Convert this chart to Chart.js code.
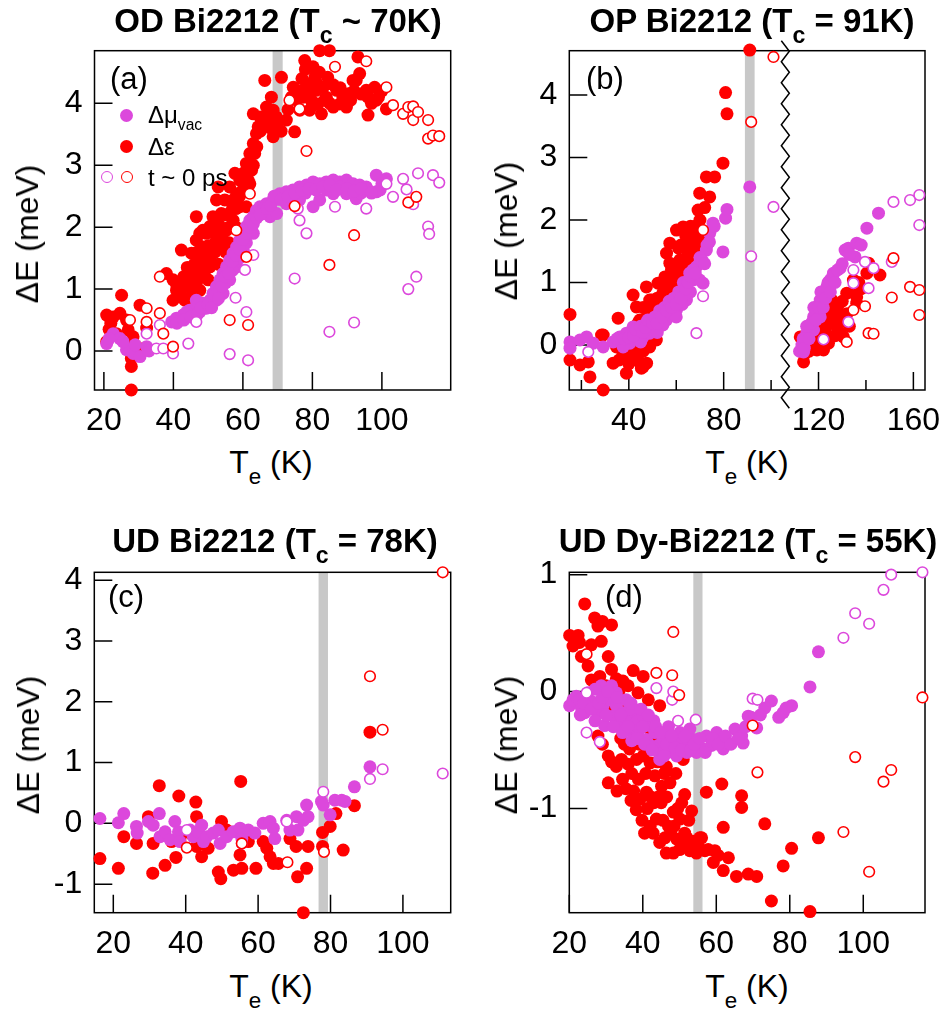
<!DOCTYPE html>
<html><head><meta charset="utf-8">
<script src="https://cdn.jsdelivr.net/npm/chart.js@4.4.0/dist/chart.umd.min.js"></script>
<style>
html,body{margin:0;padding:0;background:#fff;}
#wrap{position:relative;width:946px;height:1011px;overflow:hidden;background:#fff;font-family:"Liberation Sans",Arial,Helvetica,sans-serif;color:#000;}
canvas{position:absolute;}
.t{position:absolute;white-space:nowrap;line-height:1;}
.sb{font-size:0.7em;vertical-align:-11px;}
.sv{font-size:0.65em;vertical-align:-7px;}
.mk{position:absolute;border-radius:50%;box-sizing:border-box;}
</style></head><body><div id="wrap">
<canvas id="ca" width="470" height="400" style="left:0;top:40px"></canvas>
<canvas id="cb" width="476" height="400" style="left:470px;top:40px"></canvas>
<canvas id="cc" width="470" height="420" style="left:0;top:540px"></canvas>
<canvas id="cd" width="476" height="420" style="left:470px;top:540px"></canvas>
</div>
<script>
// ---------------- DATA ----------------
// Panel (a) OD Bi2212
const a_de = [[20.8,0.58],[22.7,0.55],[24.6,0.61],[25.1,0.9],[20.8,0.15],[23.6,0.28],[26.5,0.5],[27,0.34],[27.5,0.07],[27.9,-0.12],[27.9,-0.25],[27.9,-0.63],[28.4,0.23],[29.4,0.07],[30.4,0.74],[29.9,0.04],[32.3,0.37],[22,0.45],[21.5,0.35],
[38,1.25],[39.9,1.15],[40.9,0.98],[41.9,0.93],[43.8,1.04],[45.7,0.93],[47.6,0.98],[42.3,1.63],[46.6,2.17],[47.6,1.9],[48.6,1.68],[49.5,1.47],[50.5,1.36],[51.4,2.17],[52.4,2.44],[52.9,2.65],[53.4,1.9],[54.3,1.79],[55.3,1.95],[56.2,2.22],[57.2,2.44],[58.2,2.54],[59.1,2.76],[60.1,2.87],[61,3.03],[62,3.19],[63,3.35],[63.9,3.51],[63,3.83],[64.9,3.78],[66.8,3.67],[66.3,4.37],[68.7,3.89],[68.7,3.46],[71.1,4.42],[72.5,3.73],[74.9,3.54],[75.4,4.05],[77.3,4.1],[77.8,4.69],[79.2,3.89],[80.2,4.59],[81.1,4.21],[82.1,4.85],[82.6,3.83],[84.9,4.85],[84.4,4.42],[86,3.94],[87,4.21],[88.8,4.1],[91.7,4.37],[93.1,4.75],[93.6,4.48],[89.8,3.94],[95.5,4.21],[96,3.81],[97.9,4.26],[98.4,4.05],[101.3,3.91],
[39.9,0.82],[43.3,0.82],[44.7,1.25],[45.2,1.58],[47.6,1.36],[49.1,1.2],[50,1.15],[46.6,1.79],[49.5,1.9],[50.5,2.01],[51.9,1.9],[53.8,2.22],[54.8,2.44],[57.2,2.11],[59.1,2.33],[60.6,2.6],[61.5,2.76],[62.5,2.92],[63.4,3.19],[56.2,2.65],[57.7,2.87],[61,2.33],[64.4,3.62],[66.8,3.94],[68.2,4.1],[69.6,3.78],[74.5,4.26],[76.4,3.89],[78.3,4.32],[79.7,4.05],[80.7,4.42],[81.6,3.99],[83.1,4.26],[83.5,4.05],[87.9,3.99],[90.7,4.16],[92.6,4.37],
[44,1.1],[46,1.4],[48,1.5],[50,1.7],[52,1.6],[53,1.4],[55,1.6],[58,2.0],[56,1.75],[42,1.0],[44.5,0.85],[47,1.15],
[41,1.05],[43,1.2],[44,1.35],[45,1.1],[46,1.2],[47,1.6],[48,1.25],[48.5,1.95],[49,1.6],[50,1.4],[51,1.55],[51,1.95],[52,1.75],[53,2.05],[54,1.7],[55,2.2],[56,2.0],[57,2.3],[58,2.3],[59,2.5],[60,2.6],[61,2.9],[62,2.7],[62,3.05],[63,3.0],[64,3.3],[65,3.55],[66,3.7],[67,3.8],[68,3.6],[70,3.7],[71,3.55],[73,3.9],[74,4.1],[76,4.2],[77,4.4],[78,4.55],[79,4.2],[80,4.0],[81,4.35],[82,4.5],[84,4.1],[85,4.0],[86,4.3],[88,4.25],[89,4.05],[91,4.05],[92,4.2],[94,4.15],[96,4.1],[97,4.0],[99,4.1],[100,4.2]];
const a_dmu = [[20.8,0.12],[22.7,0.28],[24.6,0.2],[26.5,0.02],[28.4,-0.04],[30.4,-0.09],[32.3,0.07],[21.5,0.2],[25.5,0.15],[29,0.1],[33,0.0],
[39.5,0.47],[40.9,0.53],[42.8,0.58],[44.7,0.66],[46.6,0.72],[48.6,0.77],[50.5,0.82],[51.4,0.93],[52.4,1.04],[53.4,1.15],[54.3,1.25],[55.3,1.36],[56.2,1.47],[57.2,1.58],[58.2,1.68],[59.1,1.79],[60.1,1.9],[61,2.01],[62,2.11],[63,2.17],[63.9,2.27],[64.9,2.33],[66.8,2.38],[68.7,2.44],[70.6,2.54],[72.5,2.57],[74.4,2.6],[76.3,2.65],[78.3,2.68],[80.2,2.73],[82.1,2.7],[84,2.73],[86,2.76],[87.9,2.73],[89.8,2.76],[91.7,2.7],[93.6,2.68],[95.5,2.65],[98.4,2.57],[98.4,2.84],[101.3,2.78],
[47.6,0.63],[49.5,0.69],[52.4,0.82],[54.3,0.93],[56.2,1.15],[58.2,1.36],[60.1,1.63],[63,1.9],[65.8,2.22],[67.8,2.17],[69.7,2.22],[72.5,2.38],[76.3,2.44],[80.2,2.33],[82.1,2.44],[86,2.54],[89.8,2.54],[92.6,2.46],[46.6,0.82],[43.8,0.63],
[53,0.95],[55,1.1],[57,1.3],[59,1.5],[61,1.75],[62,1.95],[66,2.3],[70,2.45],[74,2.5],[78,2.55],[84,2.6],[88,2.65],[94,2.55],[96,2.6],[100,2.7],[99.5,2.6],
[41,0.45],[43,0.5],[45,0.55],[47,0.6],[48,0.7],[50,0.75],[51,0.7],[52,0.9],[53,0.85],[54,1.05],[55,1.2],[56,1.25],[57,1.45],[58,1.55],[59,1.65],[60,1.8],[61,1.9],[62,2.0],[63,2.05],[64,2.15],[65,2.2],[67,2.3],[68,2.35],[69,2.5],[71,2.45],[73,2.5],[75,2.55],[77,2.6],[79,2.62],[81,2.6],[83,2.65],[85,2.68],[87,2.6],[90,2.62],[92,2.58],[94,2.62],[97,2.55]];
const a_dmu0 = [[32.3,0.28],[36.1,0.42],[35.1,0.04],[37.1,0.04],[39.9,-0.04],[44.3,0.12],[46.6,0.47],[56.2,-0.05],[57.9,0.86],[61,0.63],[61.5,-0.15],[60.6,1.31],[63,1.55],[74.9,1.17],[75.8,2.3],[76.3,2.11],[78.3,1.9],[84.9,0.31],[86.5,2.33],[92,0.46],[95.5,2.3],[103.2,2.49],[106.1,2.78],[107.1,2.61],[107.6,1.0],[109,2.37],[109.9,1.2],[110.4,2.87],[113.3,2.01],[113.6,1.89],[114.7,2.84],[116.5,2.72],[101.3,2.7]];
const a_de0 = [[27.5,0.5],[32.3,0.69],[32.3,0.47],[36.1,1.2],[36.1,0.61],[37.1,0.28],[39.9,0.07],[56.2,0.5],[58.1,1.95],[61,1.52],[61.5,0.42],[62,2.54],[74.9,2.34],[78.3,3.23],[84.9,1.39],[86.5,4.59],[92,1.87],[95.5,4.68],[101.3,4.26],[103.2,3.97],[106.1,3.83],[107.6,3.94],[109,3.73],[109,3.95],[110.4,3.86],[107.6,2.4],[109.9,2.49],[113.3,3.73],[113.3,3.43],[114.7,3.48],[116.5,3.47],[76.3,3.91],[73.4,4.05]];

// Panel (b) OP Bi2212
const b_de = [[15.2,0.49],[15.2,-0.24],[19.4,-0.32],[23.6,-0.51],[22.9,-0.27],[29.2,0.16],[29.2,-0.72],[33.4,-0.29],[35.5,0.43],[35.9,-0.24],[39,-0.45],[41.8,0.8],[43.2,0.61],[44.6,-0.08],[46,-0.35],[47.4,0.93],[48.8,0.72],[49.8,0.08],[51.6,0.08],[53,0.99],[54.4,0.83],[55.9,1.47],[57.3,1.63],[57.3,1.31],[58.7,1.09],[60.1,1.84],[62.9,1.89],[61.5,1.36],[63.6,1.57],[65.7,1.68],[67.1,1.52],[69.2,2.16],[69.9,2.43],[69.9,1.63],[72.7,2.69],[74.1,2.37],[76.2,2.69],[79.7,2.91],[80.8,4.04],[81.4,3.7],[91,4.72],
[40.4,0.19],[46,0.19],[48.8,-0.03],[41.8,-0.13],[34.8,-0.03],[37.6,-0.13],[44.6,0.4],[51.6,0.4],[55.9,0.72],[60.1,0.83],[64.3,1.04],[68.5,1.31],[71.3,1.52],[71.3,1.79],[51.6,0.51],[57.3,0.93],
[28.5,0.16],[45.3,-0.37],[47.5,-0.29],[52.3,0.99],[55.2,1.09],[49.6,0.72],[43.9,0.35],[42,0.1],[38,0.0],[50,0.3],[53.5,0.6],[58,1.2],[62,1.1],[66,1.3],[46,0.6],
[36,0.0],[38,-0.2],[40,-0.3],[42,-0.2],[43,0.0],[44,-0.25],[45,0.1],[46,-0.1],[47,0.0],[48,0.5],[49,0.25],[50,0.6],[52,0.75],[53,0.3],[54,1.0],[55,0.5],[56,0.9],[57,1.1],[58,0.9],[59,1.25],[60,1.0],[61,1.55],[62,1.6],[63,1.25],[64,1.75],[65,1.45],[66,1.9],[67,1.75],[68,1.9],[70,2.0],[72,2.2],
[113.7,-0.27],[112.3,0.13],[115.1,-0.03],[117.9,0.03],[119.3,-0.08],[120.7,0.4],[122.1,0.24],[123.5,0.45],[124.2,0.03],[125.6,0.72],[126.3,0.4],[127.7,0.51],[129.1,0.19],[130.5,0.13],[131.9,0.83],[134.7,1.04],[136.1,0.77],[136.1,0.67],[140.4,1.15],[141.1,1.31],[145.9,1.12],[127.7,0.29],[122.1,-0.08],
[114,-0.15],[116,-0.1],[118,0.1],[119,0.25],[120,-0.05],[121,0.3],[122,0.55],[123,0.2],[124,0.65],[125,0.35],[126,0.55],[127,0.15],[128,0.6],[129,0.4],[130,0.7],[132,0.5],[133,0.3],[135,0.85],[137,1.0],[138,0.9]];
const b_dmu = [[15.2,0.05],[15.2,-0.05],[19.4,0.08],[22.2,0.13],[25,0.03],[29.2,-0.03],[33.4,0.05],[36.2,0.13],[39,0.19],[40.4,0.03],[41.8,0.29],[44.6,0.24],[46,0.13],[47.4,0.35],[48.8,0.32],[49.8,0.4],[51.6,0.24],[53,0.45],[54.4,0.51],[55.9,0.4],[57.3,0.61],[58.7,0.51],[60.1,0.56],[61.5,0.72],[62.9,0.83],[64.3,0.93],[65.7,1.15],[67.1,1.04],[68.5,1.25],[69.9,1.31],[71.3,0.99],[72.7,1.52],[74.1,1.79],[75.5,1.95],[79.7,1.49],[80.8,2.03],[81.4,2.17],[91,2.53],
[37.6,-0.03],[43.2,0.13],[48.8,0.19],[54.4,0.32],[58.7,0.67],[64.3,0.72],[69.9,1.04],[35,0.1],[45,0.05],[52,0.2],[56.5,0.5],[60,0.45],[62.5,0.65],[66,0.85],
[38,0.1],[40,0.12],[42,0.15],[43,0.25],[45,0.3],[46,0.2],[47,0.28],[48,0.4],[50,0.35],[51,0.45],[52,0.35],[53,0.55],[54,0.45],[55,0.6],[56,0.55],[57,0.7],[58,0.6],[59,0.75],[60,0.65],[61,0.85],[62,0.75],[63,1.0],[64,0.9],[65,1.0],[66,1.1],[67,1.2],[68,1.15],[70,1.4],[71,1.35],[72,1.3],[73,1.6],[74,1.65],[76,1.9],
[113,0.0],[113.7,-0.11],[115.1,0.19],[116.5,0.29],[117.9,0.45],[119.3,0.56],[120.7,0.72],[122.1,0.83],[123.5,0.93],[124.9,1.04],[126.3,1.15],[129.1,1.23],[131.2,1.52],[132.6,1.55],[136.1,1.63],[140.4,1.87],[145.3,2.11],[117.9,0.24],[120.7,0.45],[135.4,1.41],[114.5,0.08],
[112,-0.1],[113.5,0.1],[114,-0.05],[115,0.3],[116,0.1],[117,0.35],[118,0.6],[119,0.4],[120,0.6],[121,0.85],[122,0.6],[123,0.75],[124,1.0],[125,0.85],[126,1.1],[127,1.0],[128,1.2],[130,1.3],[133,1.45],[138,1.6]];
const b_dmu0 = [[22.9,-0.11],[68.5,0.19],[71.3,0.78],[91.6,1.42],[101,2.21],[122.1,0.09],[132.6,0.37],[134.7,1.2],[134.7,0.99],[139.6,1.33],[141.1,0.91],[143.2,1.23],[150.9,1.33],[151.6,2.29],[158.6,2.32],[162.5,2.4],[162.5,1.92]];
const b_de0 = [[71.3,1.84],[91.6,3.57],[101,4.61],[131.9,0.05],[134.7,0.56],[139.6,0.62],[141.1,0.19],[143.2,0.18],[150.9,0.76],[151.6,1.39],[158.6,0.93],[162.5,0.88],[162.5,0.48]];

// Panel (c) UD Bi2212
const c_dmu = [[16.3,0.08],[21.4,0.01],[22.9,0.16],[26.4,-0.05],[26.6,-0.16],[29.7,0.03],[31,-0.03],[32.7,0.16],[32.9,-0.22],[34.3,-0.14],[35.7,-0.27],[37,0.03],[38,-0.14],[38.4,-0.3],[41.2,-0.11],[42.1,-0.22],[43.5,-0.14],[44.4,-0.03],[44.9,-0.3],[45.8,-0.22],[47.6,-0.16],[49,-0.11],[49.5,-0.33],[51.3,-0.22],[53.1,-0.14],[55,-0.08],[55.5,-0.25],[57.3,-0.11],[59.1,-0.16],[61.4,0],[63.3,0.03],[64.2,-0.08],[64.6,-0.25],[67.9,0.05],[68.8,-0.11],[70.6,0.11],[71,-0.11],[72.5,0.05],[73.4,0.3],[73.8,0.11],[77.5,0.36],[78,0.3],[79.9,0.14],[81.2,0.38],[83.1,0.38],[84,0.36],[86.6,0.6],[90.9,0.93]];
const c_de = [[16.3,-0.58],[21.4,-0.74],[22.9,-0.22],[26.4,-0.33],[29.7,0.11],[30.9,-0.82],[31,-0.33],[32.7,0.62],[34.3,-0.69],[36.1,-0.3],[37.3,-0.56],[38.1,0.45],[38.4,-0.27],[42.8,0.35],[43,0.11],[43,-0.38],[44.4,-0.55],[46.2,-0.41],[49,-0.8],[49.7,-0.91],[49.9,0.03],[51.3,-0.11],[53.2,-0.77],[55,-0.52],[55.2,0.69],[55.5,-0.74],[57.3,-0.3],[59.4,-0.74],[61.4,-0.3],[62.4,-0.41],[63.3,-0.55],[64.2,-0.66],[65.6,-0.66],[68.8,-0.25],[70.5,-0.38],[70.9,-0.88],[72.5,-1.47],[73.4,-0.74],[73.8,-0.38],[77.8,-0.38],[77.8,-0.15],[79.9,-0.05],[81.5,0.16],[83.5,-0.44],[86.6,0.29],[90.9,1.5],[41.2,-0.16]];
const c_dmu0 = [[40.3,-0.11],[55.5,-0.33],[67.9,0.03],[78,0.52],[90.9,0.73],[94.4,0.89],[111,0.82]];
const c_de0 = [[40.3,-0.4],[55.5,-0.33],[68.1,-0.64],[78.2,-0.47],[90.9,2.42],[94.4,1.54],[111,4.13]];

// Panel (d) UD Dy-Bi2212
const d_de = [[24.2,0.75],[26.9,0.63],[27.8,0.56],[31.5,0.57],[20.1,0.48],[21,0.39],[22.4,0.48],[23.3,0.3],[25.1,0.22],[28.7,0.43],[30.6,0.3],[31.5,0.19],[28.3,0.13],[32.8,0.11],[34.6,0.09],[37.4,0.18],[40.1,0.13],[38.7,-0.01],[41.5,-0.07],[27.8,-0.38],[30.6,-0.55],[32.8,-0.64],[34.2,-0.58],[36.4,-0.49],[38.3,-0.58],[40.1,-0.55],[42,-0.61],[30.6,-0.78],[35.4,-0.83],[36.8,-0.93],[38.2,-1.01],[39.2,-0.92],[41,-0.86],[43.3,-0.72],[45.1,-0.81],[46.4,-0.64],[47.4,-0.78],[40.5,-1.21],[42.8,-1.21],[43.7,-1.09],[44.6,-1.29],[46.4,-1.38],[48.3,-1.38],[49.2,-1.26],[48.3,-1.03],[50.1,-1.09],[51.4,-1.21],[50.9,-1.32],[52.8,-1.36],[54.6,-1.38],[55.5,-1.25],[53.3,-1.02],[51.4,-0.88],[57.3,-0.86],[56.9,-1.36],[59.6,-1.36],[59.2,-1.46],[61.5,-0.79],[61.9,-1.16],[61.9,-1.53],[63.3,-1.42],[65.5,-1.58],[66.9,-0.89],[66.9,-0.99],[68.7,-1.56],[71,-1.58],[73.2,-1.13],[75,-1.79],[78.2,-1.49],[80.5,-1.34],[85.5,-1.88],[87.8,-1.25],
[44.6,-0.12],[42.4,-0.35],[31,-0.15],[33.7,-0.07],[43.7,-0.41],[46.9,-0.41],[51,-0.58],[36,0.05],[39,-0.3],[45,-0.95],[47,-1.15],[44,-0.6],[49,-0.7],[34,-0.4],[37,-0.7],
[29,-0.45],[31.5,-0.6],[33,-0.85],[34.5,-0.75],[36,-0.62],[37.5,-0.85],[38.8,-0.75],[39.8,-1.1],[41.2,-1.0],[42.2,-0.9],[42,-1.15],[43,-0.95],[44.2,-0.9],[45.5,-1.1],[46,-1.25],[46.5,-0.9],[47.6,-1.2],[48.5,-1.15],[49.5,-1.0],[50,-1.35],[50.6,-0.95],[52,-1.25],[52.5,-1.1],[53.8,-1.28],[55,-1.32],[56,-1.25],[57.8,-1.35],[60.5,-1.4],[45.8,-0.7],[40.8,-0.7],[39,-0.45],[35,-0.45],[33.5,0.0],[36,-0.15],[30,0.05],[26,0.1],[22.8,0.42],[26,0.4],[29,0.6]];
const d_dmu = [[20.1,-0.12],[21,-0.07],[21.9,-0.04],[23.3,-0.14],[24.2,-0.18],[25.1,-0.01],[26.5,-0.09],[27.8,-0.18],[28.7,0.05],[29.2,-0.12],[29.6,-0.29],[31,-0.07],[31.5,0.05],[31.9,-0.21],[32.8,-0.12],[33.7,-0.29],[34.6,-0.18],[35.5,-0.07],[35.9,-0.24],[37.4,-0.35],[37.8,-0.18],[38.3,-0.26],[39.2,-0.32],[40.1,-0.21],[41,-0.41],[42,-0.29],[43.3,-0.35],[44.2,-0.46],[44.6,-0.58],[45.5,-0.41],[46.4,-0.35],[47.4,-0.46],[48.3,-0.52],[49.2,-0.41],[50.1,-0.35],[51,-0.46],[52,-0.52],[52.8,-0.32],[53.7,-0.41],[54.6,-0.52],[56.4,-0.49],[57.3,-0.38],[58.7,-0.46],[60.1,-0.35],[61.4,-0.41],[61.9,-0.49],[63.3,-0.44],[65.1,-0.32],[66.9,-0.38],[67.3,-0.44],[68.7,-0.21],[71,-0.31],[73.2,-0.14],[75,-0.08],[78.2,-0.18],[80.5,-0.12],[85.5,0.04],[87.8,0.34],
[22.8,-0.07],[27,0.02],[32.8,-0.01],[35.5,-0.32],[42,-0.46],[45.5,-0.52],[49.2,-0.55],[52.8,-0.46],[36.5,-0.15],[40,-0.3],[43,-0.25],[47,-0.3],[50,-0.45],
[23,-0.2],[24,-0.1],[26,-0.15],[27,-0.25],[28,-0.1],[29,-0.05],[30,-0.2],[30.5,0],[32,-0.3],[33,-0.05],[34,-0.2],[34.5,-0.35],[36,-0.3],[36.8,-0.1],[37,-0.42],[38.5,-0.4],[39.5,-0.15],[40.5,-0.45],[41.5,-0.2],[42.5,-0.5],[43.5,-0.3],[44.8,-0.35],[45.8,-0.55],[46.5,-0.45],[47.8,-0.38],[48.8,-0.48],[50.5,-0.5],[51.5,-0.38],[53,-0.5],[54,-0.45],[55.5,-0.4],[57,-0.52],[59,-0.4],[60.5,-0.45],[62.5,-0.38],[64,-0.45],[66,-0.4],[68,-0.3],[69.5,-0.22],[72,-0.2],[77,-0.22],[79,-0.14]];
const d_dmu0 = [[24.7,-0.01],[24.7,-0.35],[28.3,-0.43],[43.7,0.03],[48,-0.07],[48.3,0],[49.6,-0.25],[54.4,-0.24],[69.9,-0.06],[71.2,-0.07],[94.6,0.46],[97.8,0.67],[101.6,0.58],[105.5,0.87],[107.6,1.0],[116.1,1.02]];
const d_de0 = [[24.7,0.32],[43.7,0.16],[48,0.14],[48.3,0.51],[49.9,-0.03],[69.9,-0.29],[71.2,-0.69],[94.6,-1.2],[97.8,-0.56],[101.6,-1.54],[105.5,-0.77],[107.6,-0.67],[116.1,-0.05]];

// Tick values
const xTicksA = [20,40,60,80,100];
const yTicksA = [0,1,2,3,4];
const xTicksB = [20,40,60,80,100,120,140,160];
const xLabelsB = [40,80,120,160];
const yTicksB = [0,1,2,3,4];
const xTicksC = [20,40,60,80,100];
const yTicksC = [-1,0,1,2,3,4];
const xTicksD = [20,40,60,80,100];
const yTicksD = [-1,0,1];

// Critical temperatures (gray bands)
const tcValues = [70, 91, 78, 55];
const tcHalfWidths = [1.45, 2.05, 1.3, 1.25];
const breakB = 106;

// ---------------- DRAWING ----------------
const RED = '#ff0000', MAG = '#dc48dc';
const FONT = '"Liberation Sans", Arial, Helvetica, sans-serif';
const toXY = arr => arr.map(([x, y]) => ({x, y}));

const framePlugin = {
  id: 'frame',
  beforeDatasetsDraw(chart) {
    const p = chart.options.plugins.frame;
    const {ctx, chartArea: ca} = chart;
    const x = chart.scales.x, y = chart.scales.y;
    ctx.save();
    ctx.fillStyle = '#c8c8c8';
    const x0 = x.getPixelForValue(p.tc - p.half), x1 = x.getPixelForValue(p.tc + p.half);
    ctx.fillRect(x0, ca.top, x1 - x0, ca.bottom - ca.top);
    ctx.strokeStyle = '#000';
    ctx.lineWidth = 1.5;
    ctx.strokeRect(ca.left, ca.top, ca.right - ca.left, ca.bottom - ca.top);
    ctx.beginPath();
    x.ticks.forEach(t => {
      const px = x.getPixelForValue(t.value);
      const L = (p.majors && !p.majors.includes(t.value)) ? 10 : 18;
      ctx.moveTo(px, ca.bottom); ctx.lineTo(px, ca.bottom - L);
    });
    y.ticks.forEach(t => {
      const py = y.getPixelForValue(t.value);
      ctx.moveTo(ca.left, py); ctx.lineTo(ca.left + 18, py);
    });
    ctx.stroke();
    if (p.breakAt != null) {
      const bx = x.getPixelForValue(p.breakAt);
      ctx.beginPath();
      let yy = ca.top - 10, s = -1;
      ctx.moveTo(bx + 4 * s, yy);
      while (yy < ca.bottom + 11) {
        yy += 10.5; s = -s;
        ctx.lineTo(bx + 4 * s, yy);
      }
      ctx.stroke();
    }
    ctx.restore();
  }
};

function zeroPad(s) { s.paddingTop = 0; s.paddingBottom = 0; s.paddingLeft = 0; s.paddingRight = 0; }

function makePanel(id, o) {
  const filled = (data, color, order) => ({data: toXY(data), pointRadius: 6.5, pointHoverRadius: 6.5, pointBackgroundColor: color, pointBorderColor: color, pointBorderWidth: 0, order, clip: false});
  const open = (data, color, order) => ({data: toXY(data), pointRadius: 5.3, pointHoverRadius: 5.3, pointBackgroundColor: '#ffffff', pointBorderColor: color, pointBorderWidth: 1.6, order, clip: false});
  const tickFont = {family: FONT, size: 32};
  new Chart(document.getElementById(id), {
    type: 'scatter',
    data: {datasets: [
      filled(o.de, RED, 3), filled(o.dmu, MAG, 2), open(o.dmu0, MAG, 1), open(o.de0, RED, 0)
    ]},
    options: {
      responsive: false, animation: false, events: [],
      layout: {padding: {left: 0, top: o.padTop, right: o.padRight, bottom: 0}},
      plugins: {legend: {display: false}, tooltip: {enabled: false},
        frame: {tc: o.tc, half: o.half, majors: o.majors, breakAt: o.breakAt}},
      scales: {
        x: {type: 'linear', min: o.xMin, max: o.xMax,
          afterBuildTicks: s => { s.ticks = o.xTicks.map(v => ({value: v})); },
          afterFit: s => { s.height = o.xH; zeroPad(s); },
          ticks: {font: tickFont, color: '#000', padding: 12, maxRotation: 0, autoSkip: false,
            callback: v => (o.majors && !o.majors.includes(v)) ? '' : String(v)},
          grid: {display: false, drawTicks: false}, border: {display: false}},
        y: {type: 'linear', min: o.yMin, max: o.yMax,
          afterBuildTicks: s => { s.ticks = o.yTicks.map(v => ({value: v})); },
          afterFit: s => { s.width = o.yW; zeroPad(s); },
          ticks: {font: tickFont, color: '#000', padding: 12, autoSkip: false, callback: v => String(v)},
          grid: {display: false, drawTicks: false}, border: {display: false}}
      }
    },
    plugins: [framePlugin]
  });
}

makePanel('ca', {de: a_de, dmu: a_dmu, dmu0: a_dmu0, de0: a_de0, xMin: 17.3, xMax: 119.8, yMin: -0.63, yMax: 4.85,
  xTicks: xTicksA, yTicks: yTicksA, tc: tcValues[0], half: tcHalfWidths[0], padTop: 10.7, padRight: 19.3, yW: 94.5, xH: 50});
makePanel('cb', {de: b_de, dmu: b_dmu, dmu0: b_dmu0, de0: b_de0, xMin: 14.9, xMax: 164.9, yMin: -0.72, yMax: 4.71,
  xTicks: xTicksB, majors: xLabelsB, yTicks: yTicksB, tc: tcValues[1], half: tcHalfWidths[1], breakAt: breakB, padTop: 10.7, padRight: 21, yW: 99.3, xH: 50});
makePanel('cc', {de: c_de, dmu: c_dmu, dmu0: c_dmu0, de0: c_de0, xMin: 14.75, xMax: 113.2, yMin: -1.47, yMax: 4.13,
  xTicks: xTicksC, yTicks: yTicksC, tc: tcValues[2], half: tcHalfWidths[2], padTop: 32.3, padRight: 19.3, yW: 94.3, xH: 47.3});
makePanel('cd', {de: d_de, dmu: d_dmu, dmu0: d_dmu0, de0: d_de0, xMin: 20, xMax: 116.8, yMin: -1.89, yMax: 1.02,
  xTicks: xTicksD, yTicks: yTicksD, tc: tcValues[3], half: tcHalfWidths[3], padTop: 32.3, padRight: 21, yW: 99.3, xH: 47.3});

// ---------------- TEXT ----------------
const wrap = document.getElementById('wrap');
function txt(html, x, base, F, opt) {
  opt = opt || {};
  const d = document.createElement('div');
  d.className = 't';
  d.innerHTML = html;
  d.style.fontSize = F + 'px';
  if (opt.bold) d.style.fontWeight = 'bold';
  if (opt.rot) {
    d.style.left = x + 'px'; d.style.top = base + 'px';
    d.style.transform = 'translate(-50%,-50%) rotate(-90deg)';
  } else {
    d.style.left = x + 'px';
    d.style.top = (base - 0.8465 * F) + 'px';
    if (opt.center) d.style.transform = 'translateX(-50%)';
  }
  wrap.appendChild(d);
}
const SUB = t => '<span class="sb">' + t + '</span>';
// titles
txt('OD Bi2212 (T' + SUB('c') + ' ~ 70K)', 278, 32, 33, {bold: true, center: true});
txt('OP Bi2212 (T' + SUB('c') + ' = 91K)', 752, 32, 33, {bold: true, center: true});
txt('UD Bi2212 (T' + SUB('c') + ' = 78K)', 275, 552, 33, {bold: true, center: true});
txt('UD Dy-Bi2212 (T' + SUB('c') + ' = 55K)', 748, 552, 33, {bold: true, center: true});
// x axis titles
const XT = 'T' + SUB('e') + ' (K)';
txt(XT, 271, 473, 32, {center: true});
txt(XT, 747, 473, 32, {center: true});
txt(XT, 271, 997, 32, {center: true});
txt(XT, 747, 997, 32, {center: true});
// y axis titles
const YT = '\u0394E (meV)';
txt(YT, 26.5, 234, 32, {rot: true});
txt(YT, 505.5, 231, 32, {rot: true});
txt(YT, 28, 745, 32, {rot: true});
txt(YT, 505.5, 745, 32, {rot: true});
// panel labels
txt('(a)', 110, 89.6, 31);
txt('(b)', 586, 89.6, 31);
txt('(c)', 108, 607.6, 31);
txt('(d)', 605, 607.6, 31);
// legend (panel a)
function mk(cx, cy, r, color, open) {
  const d = document.createElement('div');
  d.className = 'mk';
  d.style.left = (cx - r) + 'px'; d.style.top = (cy - r) + 'px';
  d.style.width = d.style.height = (2 * r) + 'px';
  if (open) { d.style.border = '1.5px solid ' + color; d.style.background = '#fff'; }
  else d.style.background = color;
  wrap.appendChild(d);
}
mk(126.7, 115, 6.5, MAG, false);
mk(126.7, 146, 6.5, RED, false);
mk(106.7, 177, 6.2, MAG, true);
mk(126.7, 177, 6.2, RED, true);
txt('\u0394\u03bc<span class="sv">vac</span>', 148, 123, 24);
txt('\u0394\u03b5', 148, 155, 24);
txt('t ~ 0 ps', 148, 186.5, 24);
</script></body></html>
